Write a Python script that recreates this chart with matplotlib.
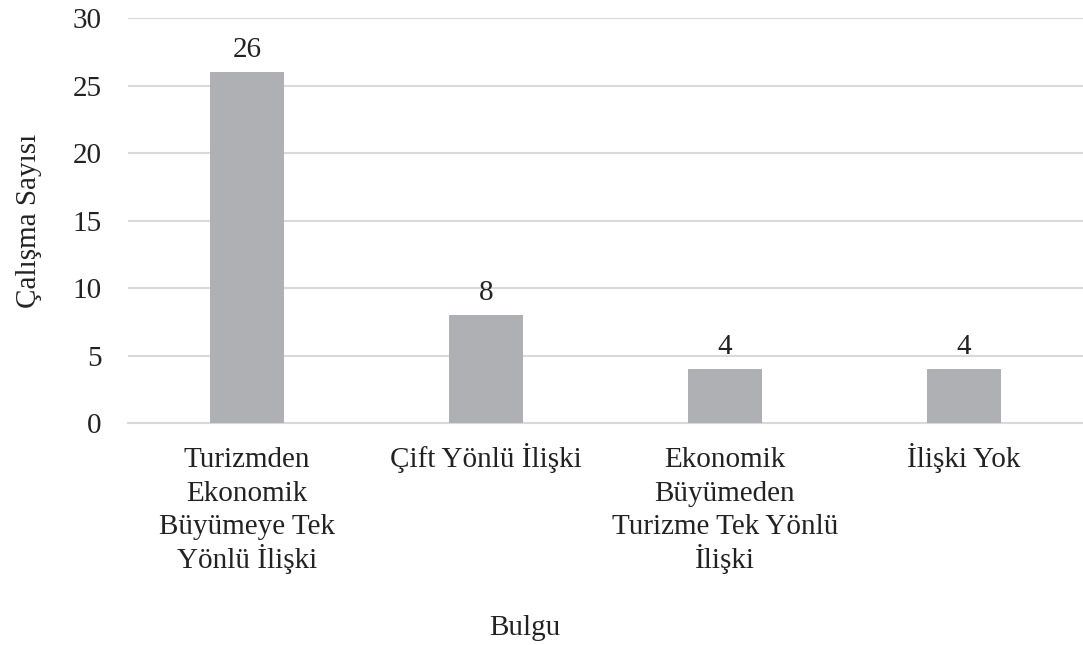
import matplotlib
matplotlib.use("Agg")
import matplotlib.pyplot as plt

# Veriler
categories = ["Turizmden\nEkonomik\nBüyümeye Tek\nYönlü İlişki",
              "Çift Yönlü İlişki",
              "Ekonomik\nBüyümeden\nTurizme Tek Yönlü\nİlişki",
              "İlişki Yok"]
values = [26, 8, 4, 4]
yticks = [0, 5, 10, 15, 20, 25, 30]

plt.rcParams['font.family'] = ['Liberation Serif', 'DejaVu Serif']
FS = 21
TXT = '#222222'

fig = plt.figure(figsize=(10.83, 6.45), dpi=100)
ax = fig.add_axes([0.118, 0.344, 0.882, 0.628])

x = range(len(categories))
bars = ax.bar(x, values, width=0.31, color='#AFB0B3', zorder=3)
for b, v in zip(bars, values):
    ax.text(b.get_x() + b.get_width() / 2, v + 0.7, str(v),
            ha='center', va='bottom', fontsize=FS, color=TXT)

ax.set_xlim(-0.5, len(categories) - 0.5)
ax.set_ylim(0, 30)
ax.set_yticks(yticks)
ax.set_xticks(list(x))
ax.set_xticklabels([])
# kategori etiketleri satır satır (eşit satır aralığı için)
for i, lab in enumerate(categories):
    for j, line in enumerate(lab.split('\n')):
        ax.annotate(line, xy=(i, 0), xycoords=('data', 'axes fraction'),
                    xytext=(0, -(44 + 33.5 * j) * 0.72), textcoords='offset points',
                    ha='center', va='baseline', fontsize=FS, color=TXT,
                    annotation_clip=False)

ax.tick_params(axis='y', labelsize=FS, colors=TXT, length=0, pad=19)
ax.tick_params(axis='x', length=0)
ax.grid(axis='y', color='#D9D9D9', linewidth=1.5, zorder=0)
for s in ['top', 'right', 'left']:
    ax.spines[s].set_visible(False)
ax.spines['bottom'].set_color('#D9D9D9')
ax.spines['bottom'].set_linewidth(1.5)

ax.set_ylabel('Çalışma Sayısı', fontsize=FS, color=TXT, labelpad=22)
fig.text(0.485, 0.0155, 'Bulgu', ha='center', va='baseline', fontsize=FS, color=TXT)

fig.savefig('out.png', dpi=100)
